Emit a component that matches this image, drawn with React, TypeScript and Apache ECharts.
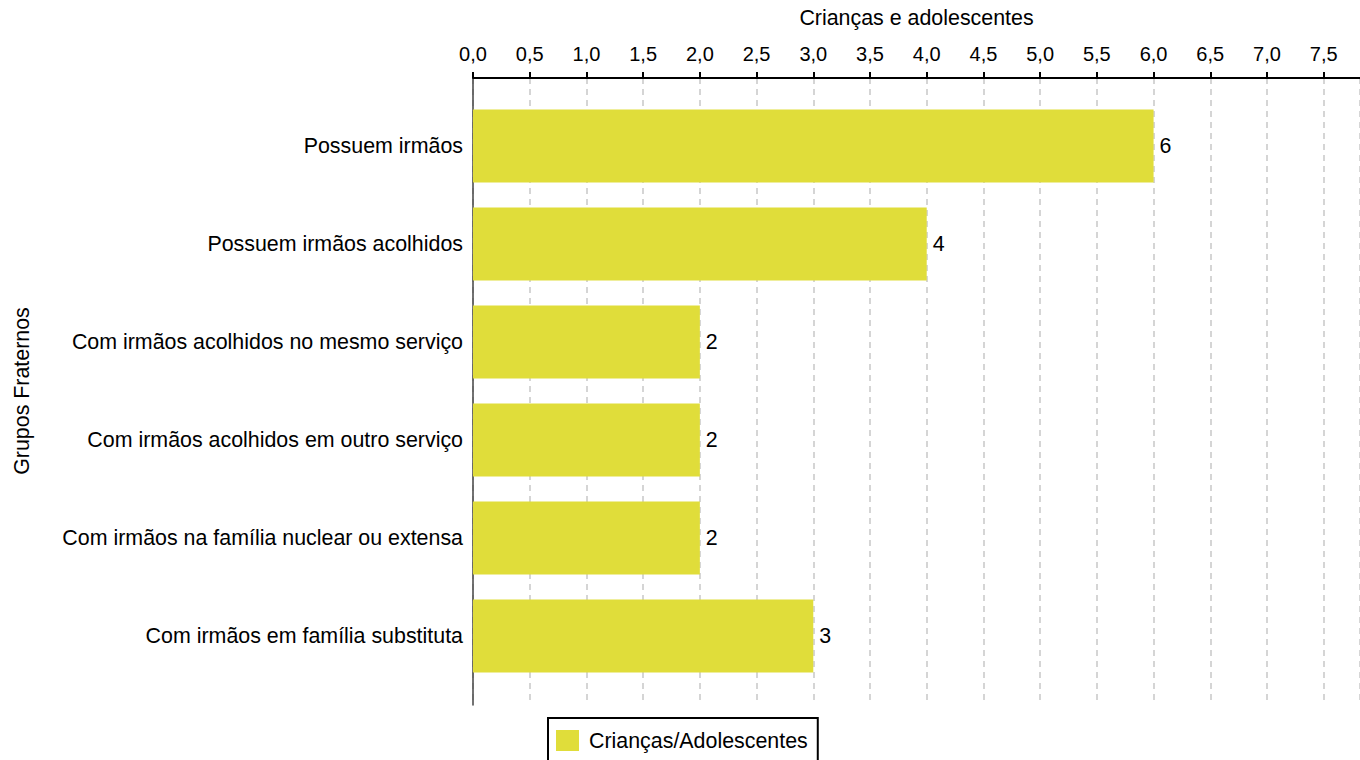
import React, { useEffect, useRef } from "react";
import * as echarts from "echarts";

const categories = [
  "Possuem irmãos",
  "Possuem irmãos acolhidos",
  "Com irmãos acolhidos no mesmo serviço",
  "Com irmãos acolhidos em outro serviço",
  "Com irmãos na família nuclear ou extensa",
  "Com irmãos em família substituta",
];
const values = [6, 4, 2, 2, 2, 3];
const seriesName = "Crianças/Adolescentes";
const xAxisTitle = "Crianças e adolescentes";
const yAxisTitle = "Grupos Fraternos";
const xMin = 0;
const xMax = 7.82;
const xStep = 0.5;

const FONT = "'Liberation Sans', Arial, Helvetica, sans-serif";
const FS = 21.4;

export default function App() {
  const ref = useRef<HTMLDivElement>(null);
  useEffect(() => {
    if (!ref.current) return;
    const chart = echarts.init(ref.current, undefined, { renderer: "svg" });
    const fmt = (v: number) => v.toFixed(1).replace(".", ",");
    chart.setOption({
      animation: false,
      textStyle: { fontFamily: FONT },
      legend: {
        data: [seriesName],
        left: 548,
        top: 718,
        orient: "horizontal",
        borderColor: "#000",
        borderWidth: 2,
        borderRadius: 0,
        padding: [12, 10, 14, 8],
        itemWidth: 23,
        itemHeight: 21,
        itemGap: 10,
        icon: "rect",
        textStyle: { fontSize: FS, color: "#000", fontFamily: FONT, padding: [0, 0, 0, 5] },
      },
      grid: [
        { left: 473, right: 0, top: 97, bottom: 75, containLabel: false, outerBoundsMode: "none" },
        { left: 473, right: 0, top: 78, bottom: 55, containLabel: false, outerBoundsMode: "none" },
      ],
      xAxis: [
        {
          gridIndex: 0,
          type: "value",
          position: "top",
          offset: 19,
          min: xMin,
          max: xMax,
          interval: xStep,
          name: xAxisTitle,
          nameLocation: "middle",
          nameGap: 50,
          nameTextStyle: { fontSize: FS, color: "#000", fontFamily: FONT },
          axisLine: { show: true, onZero: false, lineStyle: { color: "#000", width: 2 } },
          axisTick: { show: true, length: 6, lineStyle: { color: "#000", width: 2 } },
          axisLabel: {
            show: true,
            fontSize: 20,
            color: "#000",
            margin: 14,
            showMaxLabel: false,
            fontFamily: FONT,
            formatter: (v: number) => (Math.abs(v / xStep - Math.round(v / xStep)) < 1e-6 ? fmt(v) : ""),
          },
          splitLine: { show: false },
        },
        {
          gridIndex: 1,
          type: "value",
          min: xMin,
          max: xMax,
          interval: xStep,
          axisLine: { show: false },
          axisTick: { show: false },
          axisLabel: { show: false },
          splitLine: {
            show: true,
            lineStyle: { color: "#c8c8c8", width: 1.5, type: [6, 5] },
          },
        },
      ],
      yAxis: [
        {
          gridIndex: 0,
          type: "category",
          data: categories,
          inverse: true,
          name: yAxisTitle,
          nameLocation: "middle",
          nameRotate: 90,
          nameGap: 441,
          nameTextStyle: { fontSize: FS, color: "#000", fontFamily: FONT },
          axisLine: { show: false },
          axisTick: { show: false },
          axisLabel: { fontSize: FS, color: "#000", margin: 10, fontFamily: FONT },
          splitLine: { show: false },
        },
        {
          gridIndex: 1,
          type: "value",
          min: 0,
          max: 1,
          axisLine: { show: true, onZero: false, lineStyle: { color: "#444", width: 1.5 } },
          axisTick: { show: false },
          axisLabel: { show: false },
          splitLine: { show: false },
        },
      ],
      series: [
        {
          name: seriesName,
          type: "bar",
          xAxisIndex: 0,
          yAxisIndex: 0,
          data: values,
          barWidth: 73,
          itemStyle: { color: "#e0dd3a" },
          label: {
            show: true,
            position: "right",
            distance: 6,
            fontSize: FS,
            color: "#000",
            fontFamily: FONT,
          },
        },
      ],
    });
    return () => chart.dispose();
  }, []);
  return <div ref={ref} style={{ width: 1360, height: 760, position: "absolute", left: 0, top: 0 }} />;
}
